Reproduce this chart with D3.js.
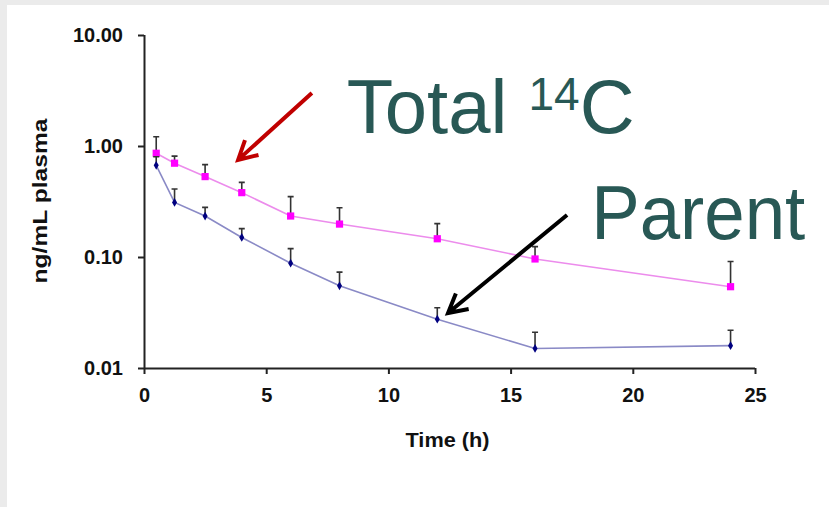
<!DOCTYPE html>
<html>
<head>
<meta charset="utf-8">
<script src="https://cdn.jsdelivr.net/npm/d3@7"></script>
<style>
  html, body { margin: 0; padding: 0; background: #ffffff; }
  svg { display: block; }
</style>
</head>
<body>
<div id="chart"></div>
<script>
// sampling times (h)
const times = [0.5, 1.25, 2.5, 4, 6, 8, 12, 16, 24];
// Total 14C (mean and top of error bar)
const totalMean = [0.86, 0.70, 0.53, 0.38, 0.234, 0.198, 0.146, 0.096, 0.054];
const totalUpper = [1.21, 0.81, 0.68, 0.47, 0.35, 0.278, 0.20, 0.124, 0.091];
// Parent (mean and top of error bar)
const parentMean = [0.67, 0.31, 0.234, 0.150, 0.088, 0.055, 0.0275, 0.015, 0.0159];
const parentUpper = [0.80, 0.41, 0.28, 0.18, 0.119, 0.073, 0.0349, 0.021, 0.0219];

const xTicks = [0, 5, 10, 15, 20, 25];
const yTicks = [0.01, 0.1, 1, 10];

const width = 829;
const height = 507;

const svg = d3.select("#chart")
  .append("svg")
  .attr("width", width)
  .attr("height", height);

// slide-like grey border at top and left
svg.append("rect").attr("width", width).attr("height", height).attr("fill", "#ebebeb");
svg.append("rect").attr("x", 7).attr("y", 5).attr("width", width - 7).attr("height", height - 5).attr("fill", "#ffffff");

const x = d3.scaleLinear().domain([0, 25]).range([144, 755]);
const y = d3.scaleLog().domain([0.01, 10]).range([368, 35]);

const font = "'Liberation Sans', Arial, sans-serif";

// axes
const xAxis = svg.append("g")
  .attr("transform", `translate(0,${y(0.01)})`)
  .call(d3.axisBottom(x).tickValues(xTicks).tickSize(6).tickPadding(14).tickFormat(d3.format("d")));

const yAxis = svg.append("g")
  .attr("transform", `translate(${x(0)},0)`)
  .call(d3.axisLeft(y).tickValues(yTicks).tickSize(6).tickPadding(15).tickFormat(d3.format(".2f")));

[xAxis, yAxis].forEach((g) => {
  g.select(".domain").attr("stroke", "#222").attr("stroke-width", 2);
  g.selectAll(".tick line").attr("stroke", "#222").attr("stroke-width", 2);
  g.selectAll(".tick text")
    .attr("fill", "#111")
    .style("font-family", font)
    .style("font-weight", "bold")
    .style("font-size", "20px");
});
xAxis.select(".domain").attr("d", `M${x(0)},0.5H${x(25)}`);
yAxis.select(".domain").attr("d", `M0.5,${y(10)}V${y(0.01)}`);

// axis titles
svg.append("text")
  .attr("x", (x(0) + x(25)) / 2 - 2)
  .attr("y", 447)
  .attr("text-anchor", "middle")
  .attr("textLength", 84)
  .attr("lengthAdjust", "spacingAndGlyphs")
  .style("font-family", font)
  .style("font-weight", "bold")
  .style("font-size", "21px")
  .attr("fill", "#111")
  .text("Time (h)");

svg.append("text")
  .attr("transform", "translate(47,201) rotate(-90)")
  .attr("text-anchor", "middle")
  .attr("textLength", 165)
  .attr("lengthAdjust", "spacingAndGlyphs")
  .style("font-family", font)
  .style("font-weight", "bold")
  .style("font-size", "20px")
  .attr("fill", "#111")
  .text("ng/mL plasma");

const series = [
  { mean: totalMean, upper: totalUpper, line: "#ec8cec", fill: "#ff00ff", shape: "square" },
  { mean: parentMean, upper: parentUpper, line: "#8a8ac6", fill: "#000080", shape: "diamond" }
];

const line = d3.line().x((d) => x(d.t)).y((d) => y(d.v));

series.forEach((s) => {
  const pts = times.map((t, i) => ({ t: t, v: s.mean[i], u: s.upper[i] }));

  const g = svg.append("g");

  g.append("path")
    .datum(pts)
    .attr("fill", "none")
    .attr("stroke", s.line)
    .attr("stroke-width", 1.6)
    .attr("d", line);

  // upper error bars
  g.selectAll(".err")
    .data(pts)
    .enter()
    .append("path")
    .attr("fill", "none")
    .attr("stroke", "#333")
    .attr("stroke-width", 1.6)
    .attr("d", (d) => `M${x(d.t)},${y(d.v)}V${y(d.u)}M${x(d.t) - 3},${y(d.u)}H${x(d.t) + 3}`);

  g.selectAll(".pt")
    .data(pts)
    .enter()
    .append("path")
    .attr("transform", (d) => `translate(${x(d.t)},${y(d.v)})`)
    .attr("fill", s.fill)
    .attr("d", d3.symbol().type(s.shape === "square" ? d3.symbolSquare : d3.symbolDiamond).size(s.shape === "square" ? 52 : 22));
});

// annotations
const teal = "#285855";

const totalLabel = svg.append("text")
  .attr("x", x(8.3))
  .attr("y", 133)
  .style("font-family", font)
  .style("font-size", "76px")
  .attr("fill", teal);
totalLabel.append("tspan").text("Total ");
totalLabel.append("tspan").attr("dy", -23).style("font-size", "46px").text("14");
totalLabel.append("tspan").attr("dy", 23).text("C");

svg.append("text")
  .attr("x", x(18.3))
  .attr("y", 239)
  .attr("textLength", 214)
  .attr("lengthAdjust", "spacingAndGlyphs")
  .style("font-family", font)
  .style("font-size", "76px")
  .attr("fill", teal)
  .text("Parent");

function arrow(x1, y1, x2, y2, color, w) {
  const ang = Math.atan2(y2 - y1, x2 - x1);
  const len = 21;
  const spread = 0.5;
  const a1 = [x2 - len * Math.cos(ang - spread), y2 - len * Math.sin(ang - spread)];
  const a2 = [x2 - len * Math.cos(ang + spread), y2 - len * Math.sin(ang + spread)];
  svg.append("path")
    .attr("fill", "none")
    .attr("stroke", color)
    .attr("stroke-width", w)
    .attr("d", `M${x1},${y1}L${x2},${y2}M${a1[0]},${a1[1]}L${x2},${y2}L${a2[0]},${a2[1]}`);
}

arrow(x(6.87), y(3.0), x(3.85), y(0.75), "#c00000", 4);
arrow(x(17.31), y(0.239), x(12.44), y(0.0313), "#000000", 4);
</script>
</body>
</html>
